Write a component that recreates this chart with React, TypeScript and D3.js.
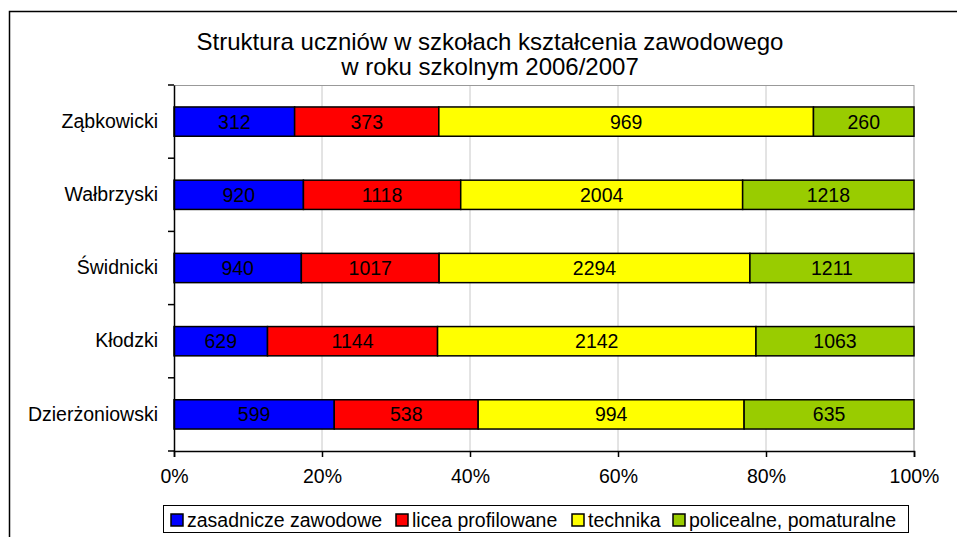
import { useRef, useEffect } from "react";
import * as d3 from "d3";

// Powiaty, od góry
const categories = ["Ząbkowicki", "Wałbrzyski", "Świdnicki", "Kłodzki", "Dzierżoniowski"];

const seriesNames = ["zasadnicze zawodowe", "licea profilowane", "technika", "policealne, pomaturalne"];
const seriesColors = ["#0000FF", "#FF0000", "#FFFF00", "#99CC00"];

const zasadnicze = [312, 920, 940, 629, 599];
const licea = [373, 1118, 1017, 1144, 538];
const technika = [969, 2004, 2294, 2142, 994];
const policealne = [260, 1218, 1211, 1063, 635];

const xTicks = [0, 0.2, 0.4, 0.6, 0.8, 1];

export default function App() {
  const svgRef = useRef<SVGSVGElement>(null);

  useEffect(() => {
    const width = 957;
    const height = 537;
    const font = "'Liberation Sans', Arial, sans-serif";
    const fs = "19.5px";

    const svg = d3.select(svgRef.current)
      .attr("width", width)
      .attr("height", height)
      .style("display", "block")
      .style("position", "absolute")
      .style("left", 0)
      .style("top", 0);

    svg.selectAll("*").remove();

    svg.append("rect").attr("width", width).attr("height", height).attr("fill", "#fff");

    // outer frame
    svg.append("rect")
      .attr("x", 9.5).attr("y", 11.5)
      .attr("width", 980).attr("height", 560)
      .attr("fill", "none").attr("stroke", "#000").attr("stroke-width", 1.5);

    const plot = { left: 174, top: 85, right: 914, bottom: 451 };

    const x = d3.scaleLinear().domain([0, 1]).range([plot.left, plot.right]);
    const y = d3.scaleBand().domain(categories).range([plot.top, plot.bottom]).paddingInner(0.6).paddingOuter(0.3);
    const yb = d3.scaleBand().domain(categories).range([plot.top, plot.bottom]);

    // title
    const title = svg.append("text")
      .attr("x", 490).attr("text-anchor", "middle")
      .style("font-family", font).style("font-size", "24px").attr("fill", "#000");
    title.append("tspan").attr("x", 490).attr("y", 50).text("Struktura uczniów w szkołach kształcenia zawodowego");
    title.append("tspan").attr("x", 490).attr("y", 75).text("w roku szkolnym 2006/2007");

    // grid
    svg.append("g").selectAll("line")
      .data(xTicks.slice(1))
      .join("line")
      .attr("x1", d => x(d)).attr("x2", d => x(d))
      .attr("y1", plot.top).attr("y2", plot.bottom)
      .attr("stroke", d => d === 1 ? "#999" : "#c8c8c8").attr("stroke-width", 1);

    svg.append("line")
      .attr("x1", plot.left).attr("x2", plot.right)
      .attr("y1", plot.top + 0.5).attr("y2", plot.top + 0.5)
      .attr("stroke", "#999");

    // stacked percentages
    const rows = categories.map((c, i) => ({
      cat: c,
      vals: [zasadnicze[i], licea[i], technika[i], policealne[i]],
    }));

    const segs: { cat: string; v: number; x0: number; x1: number; s: number }[] = [];
    rows.forEach(r => {
      const total = d3.sum(r.vals);
      let acc = 0;
      r.vals.forEach((v, s) => {
        segs.push({ cat: r.cat, v, x0: acc / total, x1: (acc + v) / total, s });
        acc += v;
      });
    });

    svg.append("g").selectAll("rect")
      .data(segs)
      .join("rect")
      .attr("x", d => x(d.x0))
      .attr("y", d => y(d.cat)!)
      .attr("width", d => x(d.x1) - x(d.x0))
      .attr("height", y.bandwidth())
      .attr("fill", d => seriesColors[d.s])
      .attr("stroke", "#000").attr("stroke-width", 1.5);

    svg.append("g").selectAll("text")
      .data(segs)
      .join("text")
      .attr("x", d => (x(d.x0) + x(d.x1)) / 2)
      .attr("y", d => y(d.cat)! + y.bandwidth() / 2 + 7)
      .attr("text-anchor", "middle")
      .style("font-family", font).style("font-size", fs)
      .text(d => d.v);

    // axes
    const xAxis = svg.append("g")
      .attr("transform", `translate(0,${plot.bottom})`)
      .call(d3.axisBottom(x).tickValues(xTicks).tickFormat(d3.format(".0%")).tickSize(6).tickPadding(12));
    xAxis.select(".domain").attr("stroke", "#000").attr("stroke-width", 1.5);
    xAxis.selectAll(".tick line").attr("stroke", "#000").attr("stroke-width", 1.5);
    xAxis.selectAll("text").style("font-family", font).style("font-size", fs).attr("fill", "#000");

    const yAxis = svg.append("g")
      .attr("transform", `translate(${plot.left},0)`)
      .call(d3.axisLeft(y).tickSize(0).tickPadding(16));
    yAxis.select(".domain").attr("stroke", "#000").attr("stroke-width", 1.5);
    yAxis.selectAll("text").style("font-family", font).style("font-size", fs).attr("fill", "#000");

    // category boundary ticks
    const bounds = categories.map(c => yb(c)!).concat([plot.bottom]);
    svg.append("g").selectAll("line")
      .data(bounds)
      .join("line")
      .attr("x1", plot.left - 6).attr("x2", plot.left)
      .attr("y1", d => d).attr("y2", d => d)
      .attr("stroke", "#000").attr("stroke-width", 1.5);

    // legend
    const lg = svg.append("g");
    lg.append("rect")
      .attr("x", 163.5).attr("y", 505.5).attr("width", 745).attr("height", 27)
      .attr("fill", "#fff").attr("stroke", "#000").attr("stroke-width", 1);

    const legendX = [171, 396, 572, 673];
    const items = lg.selectAll("g.item")
      .data(seriesNames)
      .join("g")
      .attr("class", "item")
      .attr("transform", (d, i) => `translate(${legendX[i]},514)`);
    items.append("rect")
      .attr("width", 12).attr("height", 12)
      .attr("fill", (d, i) => seriesColors[i])
      .attr("stroke", "#000").attr("stroke-width", 1.5);
    items.append("text")
      .attr("x", 16).attr("y", 13)
      .style("font-family", font).style("font-size", fs)
      .text(d => d);
  }, []);

  return (
    <div>
      <svg ref={svgRef}></svg>
    </div>
  );
}
